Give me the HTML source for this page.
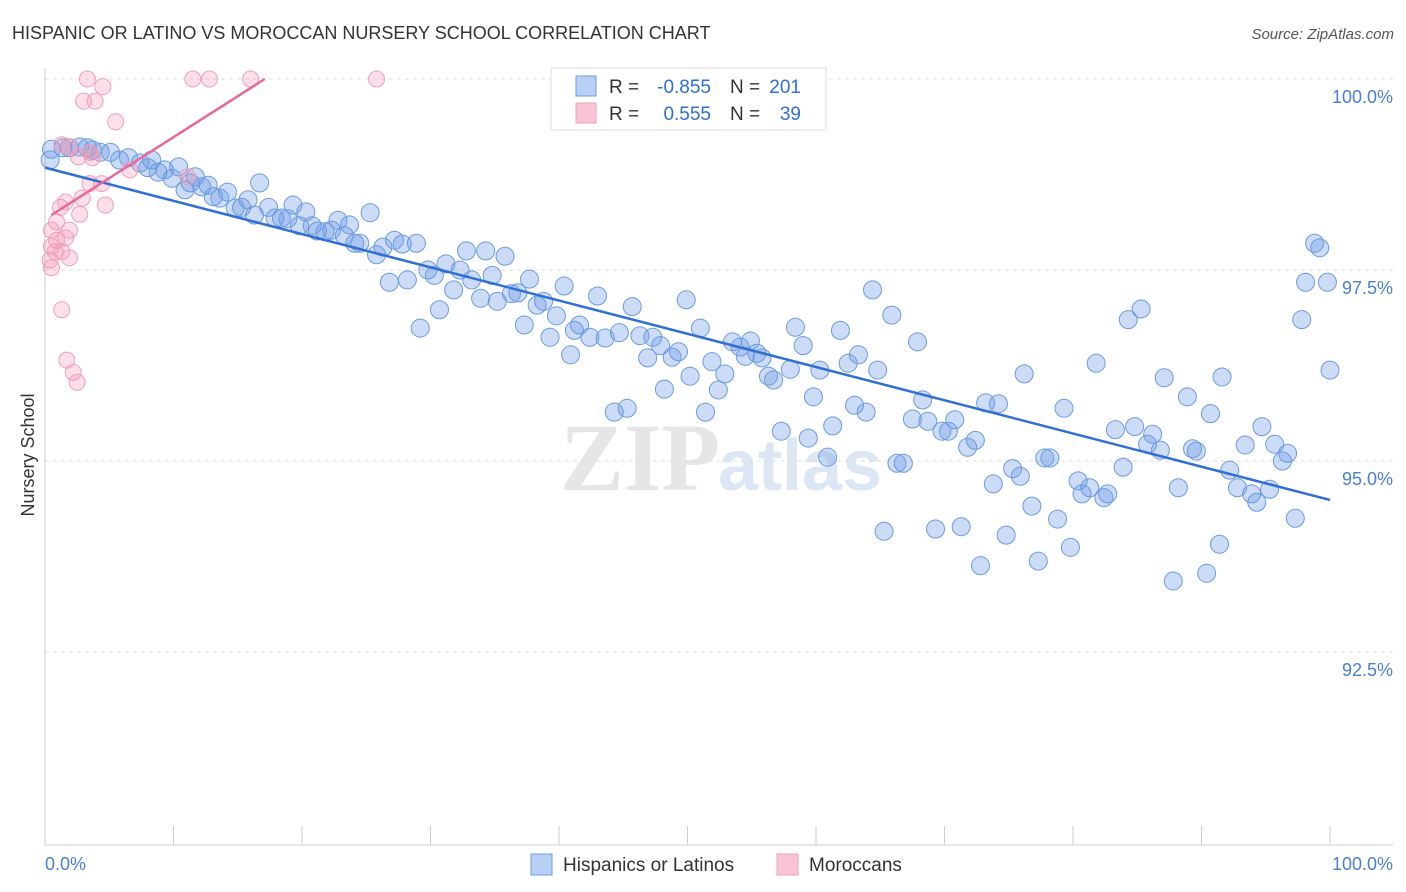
<!DOCTYPE html>
<html><head><meta charset="utf-8">
<style>
body{margin:0;background:#fff;font-family:"Liberation Sans",sans-serif;}
svg{display:block}
</style></head><body>
<svg id="chart" width="1406" height="892">
<text x="12" y="39" font-size="18" fill="#333">HISPANIC OR LATINO VS MOROCCAN NURSERY SCHOOL CORRELATION CHART</text>
<text x="1394" y="39" font-size="15" fill="#555" text-anchor="end" font-style="italic">Source: ZipAtlas.com</text>
<text x="560" y="490" font-size="96" fill="#e6e6e6" font-family="Liberation Serif" font-weight="bold">ZIP</text>
<text x="718" y="490" font-size="72" fill="#dde6f4" font-weight="bold">atlas</text>
<g id="grid"></g><g id="axes"></g><g id="pts"></g><g id="trend"></g>
<text transform="translate(34,455) rotate(-90)" font-size="18" fill="#333" text-anchor="middle">Nursery School</text>
<text x="45" y="870" font-size="18" fill="#4a7fd6">0.0%</text>
<text x="1393" y="870" font-size="18" fill="#4a7fd6" text-anchor="end">100.0%</text>
<g>
<rect x="551" y="68" width="275" height="62" fill="#fff" stroke="#ddd"/>
<rect x="576" y="76" width="20" height="20" fill="#b8d0f4" stroke="#6b9be0"/>
<rect x="576" y="103" width="20" height="20" fill="#f9c4d4" stroke="#f0a0b8"/>
<text x="609" y="93" font-size="19" fill="#333">R =</text>
<text x="711" y="93" font-size="19" fill="#2f6fd6" text-anchor="end">-0.855</text>
<text x="730" y="93" font-size="19" fill="#333">N =</text>
<text x="801" y="93" font-size="19" fill="#2f6fd6" text-anchor="end">201</text>
<text x="609" y="120" font-size="19" fill="#333">R =</text>
<text x="711" y="120" font-size="19" fill="#2f6fd6" text-anchor="end">0.555</text>
<text x="730" y="120" font-size="19" fill="#333">N =</text>
<text x="801" y="120" font-size="19" fill="#2f6fd6" text-anchor="end">39</text>
</g>
<g>
<rect x="531" y="854" width="21" height="21" fill="#b8d0f4" stroke="#6b9be0"/>
<text x="563" y="871" font-size="19" fill="#333">Hispanics or Latinos</text>
<rect x="777" y="854" width="21" height="21" fill="#f9c4d4" stroke="#f0a0b8"/>
<text x="809" y="871" font-size="19" fill="#333">Moroccans</text>
</g>
</svg>
<script>
const yTicks=[100,97.5,95,92.5];
const yTickLabels=["100.0%","97.5%","95.0%","92.5%"];
const xTicks=[0,10,20,30,40,50,60,70,80,90,100];
const blueX=[0.5,0.4,1.4,1.9,2.7,3.3,3.7,4.3,5.1,5.8,6.5,7.4,8.0,8.3,8.8,9.3,9.9,10.4,10.9,11.3,11.7,12.2,12.7,13.1,13.6,14.2,14.8,15.3,15.8,16.3,16.7,17.4,17.9,18.4,18.9,19.3,19.8,20.3,20.8,21.2,21.8,22.3,22.8,23.3,23.7,24.1,24.5,25.3,25.8,26.3,26.8,27.2,27.8,28.2,28.9,29.2,29.8,30.3,30.7,31.2,31.8,32.3,32.8,33.2,33.9,34.3,34.8,35.2,35.8,36.3,36.8,37.3,37.7,38.3,38.8,39.3,39.8,40.4,40.9,41.2,41.6,42.4,43.0,43.6,44.3,44.7,45.3,45.7,46.3,46.9,47.3,47.9,48.2,48.8,49.3,49.9,50.2,51.0,51.4,51.9,52.4,52.9,53.5,54.1,54.5,54.9,55.4,55.8,56.3,56.7,57.3,58.0,58.4,59.0,59.4,59.8,60.3,60.9,61.3,61.9,62.5,63.0,63.3,63.9,64.4,64.8,65.3,65.9,66.3,66.8,67.5,67.9,68.3,68.7,69.3,69.8,70.3,70.8,71.3,71.8,72.4,72.8,73.2,73.8,74.2,74.8,75.3,75.9,76.2,76.8,77.3,77.8,78.2,78.8,79.3,79.8,80.4,80.7,81.3,81.8,82.4,82.7,83.3,83.9,84.3,84.8,85.3,85.8,86.2,86.8,87.1,87.8,88.2,88.9,89.3,89.6,90.4,90.7,91.4,91.6,92.2,92.8,93.4,93.9,94.3,94.7,95.3,95.7,96.3,96.7,97.3,97.8,98.1,98.8,99.2,99.8,100];
const blueY=[99.08,98.94,99.10,99.10,99.11,99.10,99.07,99.04,99.04,98.94,98.97,98.90,98.84,98.94,98.78,98.81,98.70,98.85,98.55,98.64,98.72,98.59,98.61,98.46,98.44,98.52,98.31,98.32,98.42,98.22,98.64,98.32,98.18,98.18,98.17,98.35,98.08,98.26,98.08,98.01,98.00,98.02,98.15,97.95,98.09,97.85,97.85,98.25,97.70,97.80,97.34,97.89,97.84,97.37,97.85,96.74,97.50,97.43,96.98,97.58,97.24,97.50,97.75,97.37,97.13,97.75,97.43,97.09,97.68,97.19,97.20,96.78,97.38,97.04,97.09,96.62,96.90,97.29,96.39,96.71,96.78,96.62,97.16,96.61,95.64,96.68,95.69,97.02,96.64,96.35,96.62,96.51,95.94,96.36,96.43,97.11,96.11,96.74,95.64,96.30,95.93,96.14,96.56,96.49,96.37,96.57,96.41,96.35,96.11,96.06,95.39,96.20,96.75,96.51,95.30,95.84,96.19,95.05,95.46,96.71,96.28,95.73,96.39,95.64,97.24,96.19,94.08,96.91,94.97,94.97,95.55,96.56,95.80,95.52,94.11,95.39,95.39,95.54,94.14,95.18,95.27,93.63,95.76,94.70,95.75,94.03,94.90,94.80,96.14,94.41,93.69,95.04,95.04,94.24,95.69,93.87,94.74,94.57,94.65,96.28,94.52,94.57,95.41,94.92,96.85,95.45,96.99,95.22,95.35,95.14,96.09,93.43,94.65,95.84,95.16,95.13,93.53,95.62,93.91,96.10,94.88,94.65,95.21,94.57,94.46,95.45,94.63,95.22,95.00,95.10,94.25,96.85,97.34,97.85,97.79,97.34,96.19];
const pinkX=[3.3,4.5,3.0,3.9,11.5,12.8,16.0,25.8,5.5,1.3,1.9,3.5,2.6,3.7,4.4,3.5,6.6,11.1,2.9,4.7,1.2,1.6,2.7,0.9,1.9,0.5,0.9,1.6,0.5,0.8,1.3,1.9,0.4,0.5,1.3,1.7,2.2,2.5];
const pinkY=[100,99.90,99.71,99.71,100,100,100,100,99.44,99.14,99.11,99.04,98.98,98.97,98.63,98.63,98.81,98.72,98.44,98.35,98.32,98.39,98.23,98.13,98.02,98.02,97.89,97.92,97.81,97.74,97.74,97.66,97.63,97.53,96.98,96.32,96.16,96.03];
const blueTrend=[[0,98.84],[100,94.49]];
const pinkTrend=[[0.5,98.22],[17.1,100]];
const NS="http://www.w3.org/2000/svg";
const sx=v=>45+v*12.85;
const sy=v=>79+(100-v)*76.4;
function mk(tag,attrs,parent){const e=document.createElementNS(NS,tag);for(const k in attrs)e.setAttribute(k,attrs[k]);parent.appendChild(e);return e;}
const grid=document.getElementById('grid'),axes=document.getElementById('axes'),pts=document.getElementById('pts'),tr=document.getElementById('trend');
yTicks.forEach((t,i)=>{
 const l=mk('line',{x1:45,x2:1393,y1:sy(t),y2:sy(t),stroke:'#ddd','stroke-dasharray':'4,4'},grid);
 
 
 const tx=mk('text',{x:1393,y:sy(t)+24,'font-size':18,fill:'#4a7fd6','text-anchor':'end'},grid);
 tx.textContent=yTickLabels[i];
 
 
});
const xa=mk('line',{x1:45,x2:1393,y1:845,y2:845,stroke:'#ccc'},axes);


const ya=mk('line',{x1:45,x2:45,y1:68,y2:845,stroke:'#ccc'},axes);


xTicks.forEach(t=>{
 const l=mk('line',{x1:sx(t),x2:sx(t),y1:826,y2:845,stroke:'#ccc'},axes);
 
 
});
blueX.forEach((x,i)=>{
 const c=mk('circle',{cx:sx(x),cy:sy(blueY[i]),r:9,fill:'rgba(110,155,230,0.35)',stroke:'#6b9be0','stroke-width':1},pts);
 
 
});
pinkX.forEach((x,i)=>{
 const c=mk('circle',{cx:sx(x),cy:sy(pinkY[i]),r:8,fill:'rgba(245,150,180,0.3)',stroke:'#f0a0b8','stroke-width':1},pts);
 
 
});
const bt=mk('line',{x1:sx(blueTrend[0][0]),y1:sy(blueTrend[0][1]),x2:sx(blueTrend[1][0]),y2:sy(blueTrend[1][1]),stroke:'#2f6fd6','stroke-width':2.5},tr);


const pt=mk('line',{x1:sx(pinkTrend[0][0]),y1:sy(pinkTrend[0][1]),x2:sx(pinkTrend[1][0]),y2:sy(pinkTrend[1][1]),stroke:'#e8689a','stroke-width':2.5},tr);


</script>
</body></html>
